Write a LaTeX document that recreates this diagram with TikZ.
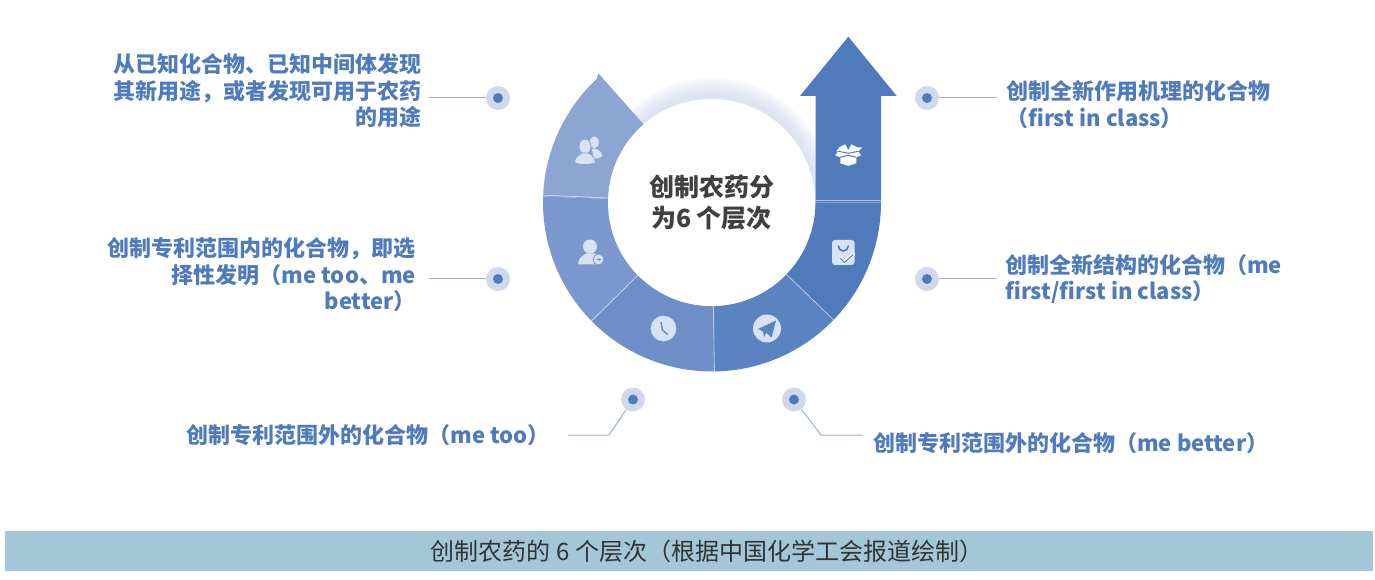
\documentclass[tikz,border=0pt]{standalone}
\usepackage{fontspec}
\usepackage{xcolor}
\usetikzlibrary{arrows.meta}
\setmainfont{Noto Sans CJK SC}
\definecolor{segA}{HTML}{8CA5D3}
\definecolor{segB}{HTML}{7C97CE}
\definecolor{segC}{HTML}{6E8EC8}
\definecolor{segD}{HTML}{5C83C1}
\definecolor{segE}{HTML}{4F7BBD}
\definecolor{halo}{HTML}{D0D8EC}
\definecolor{leadc}{HTML}{9DB1D8}
\definecolor{icon}{HTML}{D8E2F2}
\definecolor{capc}{HTML}{A3C7D7}
\newcommand{\ringseg}[3]{\fill[#3] ([shift={(712,376.5)}]#1:169) arc[start angle=#1, end angle=#2, radius=169] -- ([shift={(712,376.5)}]#2:103.5) arc[start angle=#2, end angle=#1, radius=103.5] -- cycle;}
\begin{document}
\begin{tikzpicture}[x=1pt, y=1pt, dot/.style = {circle, fill=halo, minimum size=24pt, inner sep=0pt}, core/.style = {circle, fill=segE, minimum size=10pt, inner sep=0pt}, tx/.style = {inner sep=0pt, text=segE, font=\fontsize{22}{26.5}\selectfont\bfseries}, lead/.style = {draw=leadc, line width=1pt}, seam/.style = {draw=white, draw opacity=0.55, line width=0.8pt}]
        \useasboundingbox (0, 0) rectangle (1375, 579);
        % shadow round the middle
        \foreach \r in {104, 106, ..., 120} {
          \fill[halo, opacity=0.13] (712, 381) circle[radius=\r];
        }

        % ring and arrow
        \fill[segA] ([shift={(712,376.5)}]178:169) arc[start angle=178, end angle=133, radius=169] -- (598.3, 505.7) -- (643.3, 455) -- ([shift={(712,376.5)}]131.3:103.5) arc[start angle=131.3, end angle=178, radius=103.5] -- cycle;
        \ringseg{178}{224.5}{segB}
        \ringseg{224.5}{270.8}{segC}
        \ringseg{270.8}{316}{segD}
        \ringseg{316}{360}{segE}
        \fill[segE] (815.5, 377) -- (815.5, 483) -- (800, 483) -- (848.3, 542.3) -- (896.7, 483) -- (881, 483) -- (881, 377) -- cycle;
        \fill[white] (711.5, 376.5) circle[radius=103.5];
        \draw[seam] ([shift={(712,376.5)}]177.5:169) -- ([shift={(712,376.5)}]177.5:103.5);
        \draw[seam] ([shift={(712,376.5)}]224.5:169) -- ([shift={(712,376.5)}]224.5:103.5);
        \draw[seam] ([shift={(712,376.5)}]270.8:169) -- ([shift={(712,376.5)}]270.8:103.5);
        \draw[seam] ([shift={(712,376.5)}]316:169) -- ([shift={(712,376.5)}]316:103.5);
        \draw[seam] (815.5, 379) -- (881, 379);

        % icons
        \begin{scope}[shift={(589, 429)}]
          \fill[icon] (5.3, 7.7) ellipse[x radius=4.5, y radius=6];
          \fill[icon] (3, 1) -- (7, 1) .. controls (12, -1) and (14, -4) .. (12.7, -7) -- (5, -9) -- cycle;
          \fill[icon, draw=segA, line width=0.8pt] (-4, 3.5) ellipse[x radius=6, y radius=7.5];
          \fill[icon, draw=segA, line width=0.8pt] (-7, -3) .. controls (-12, -6) and (-15, -9) .. (-14, -13) .. controls (-8, -15) and (0, -15) .. (6, -13) .. controls (7, -9) and (4, -5) .. (-1, -3) -- cycle;
        \end{scope}
        \begin{scope}[shift={(590, 327)}]
          \fill[icon] (0, 5.5) circle[radius=7];
          \fill[icon] (-4, -1.5) .. controls (-9, -4) and (-12, -8) .. (-12, -12.5) -- (7, -12.5) -- (7, -3) -- (4, -1.5) -- cycle;
          \fill[icon, draw=segB, line width=0.8pt] (8.5, -7.5) circle[radius=5.5];
          \draw[segB, line width=1.2pt, -{Stealth[length=3.5pt]}] (5.5, -7.5) -- (12, -7.5);
        \end{scope}
        \begin{scope}[shift={(663.5, 250.5)}]
          \fill[icon] (0, 0) circle[radius=12.8];
          \draw[segC, line width=1.5pt, line cap=round] (-2.5, 6) -- (-1, -1.5) -- (4, -6);
        \end{scope}
        \begin{scope}[shift={(767, 250.5)}]
          \fill[icon] (0, 0) circle[radius=14];
          \fill[segD] (-9, -0.5) -- (9, 8) -- (4.5, -9) -- (-1, -4) -- (-3, -9) -- (-4, -3) -- cycle;
        \end{scope}
        \begin{scope}[shift={(843.3, 326.5)}]
          \fill[icon, rounded corners=3pt] (-11.3, -12.5) rectangle (11.3, 12.5);
          \draw[segE, line width=1.6pt, line cap=round] (-5, 6.5) arc[start angle=180, end angle=360, radius=5];
          \draw[white, line width=3pt] (-3, -6) -- (1, -10) -- (11, -1);
          \draw[segE, line width=1pt] (-3, -6) -- (1, -10) -- (10, -2);
        \end{scope}
        \begin{scope}[shift={(848.3, 424.7)}]
          \fill[white] (-12, 3) -- (-9, 7) -- (-3, 10) -- (0, 4) -- (3, 10) -- (9, 7) -- (14, 7) -- (10, 3) -- (13, -1) -- (8, -3) -- (8, -9) -- (0, -11.5) -- (-8, -9) -- (-8, -3) -- (-13, -1) -- (-10, 3) -- cycle;
          \draw[segE, line width=1pt] (-10, 3) -- (0, 1) -- (10, 3);
          \draw[segE, line width=1pt] (-8, -3) -- (0, -1) -- (8, -3);
        \end{scope}

        % labels
        \draw (711.5, 376) node[inner sep=0pt, align=center, text=black!75, font=\fontsize{25}{31}\selectfont\bfseries] (mid) {创制农药分\\为6 个层次};
        \draw (422, 488) node[tx, anchor=east, align=right] (txA) {从已知化合物、已知中间体发现\\其新用途，或者发现可用于农药\\的用途};
        \draw (416, 304) node[tx, anchor=east, align=right] (txB) {创制专利范围内的化合物，即选\\择性发明（me too、me\\better）};
        \draw (550, 144) node[tx, anchor=east] (txC) {创制专利范围外的化合物（me too）};
        \draw (873, 136) node[tx, anchor=west] (txD) {创制专利范围外的化合物（me better）};
        \draw (1005, 300) node[tx, anchor=west, align=left] (txE) {创制全新结构的化合物（me\\first/first in class）};
        \draw (1006, 474.5) node[tx, anchor=west, align=left] (txF) {创制全新作用机理的化合物\\（first in class）};

        % dots and leads
        \foreach \nm/\xx/\yy in {A/498/481, B/498/300, C/633/179.5, D/794/179.5, E/927/300, F/927/481} {
          \draw (\xx, \yy) node[dot] (dot\nm) {};
          \draw (\xx, \yy) node[core] (core\nm) {};
        }
        \coordinate (endA) at (429, 481);
        \coordinate (endB) at (429, 300);
        \coordinate (bendC) at (609, 144);
        \coordinate (endC) at (568, 144);
        \coordinate (bendD) at (821, 144);
        \coordinate (endD) at (863, 144);
        \coordinate (endE) at (997, 300);
        \coordinate (endF) at (997, 481);
        \draw[lead] (dotA) -- (endA);
        \draw[lead] (dotB) -- (endB);
        \draw[lead] (dotC) -- (bendC) -- (endC);
        \draw[lead] (dotD) -- (bendD) -- (endD);
        \draw[lead] (dotE) -- (endE);
        \draw[lead] (dotF) -- (endF);

        % caption
        \fill[capc] (5, 8.3) rectangle (1373, 48);
        \draw (707, 28) node[inner sep=0pt, text=black!80, font=\fontsize{24}{28}\selectfont] (cap) {创制农药的 6 个层次（根据中国化学工会报道绘制）};
\end{tikzpicture}
\end{document}
